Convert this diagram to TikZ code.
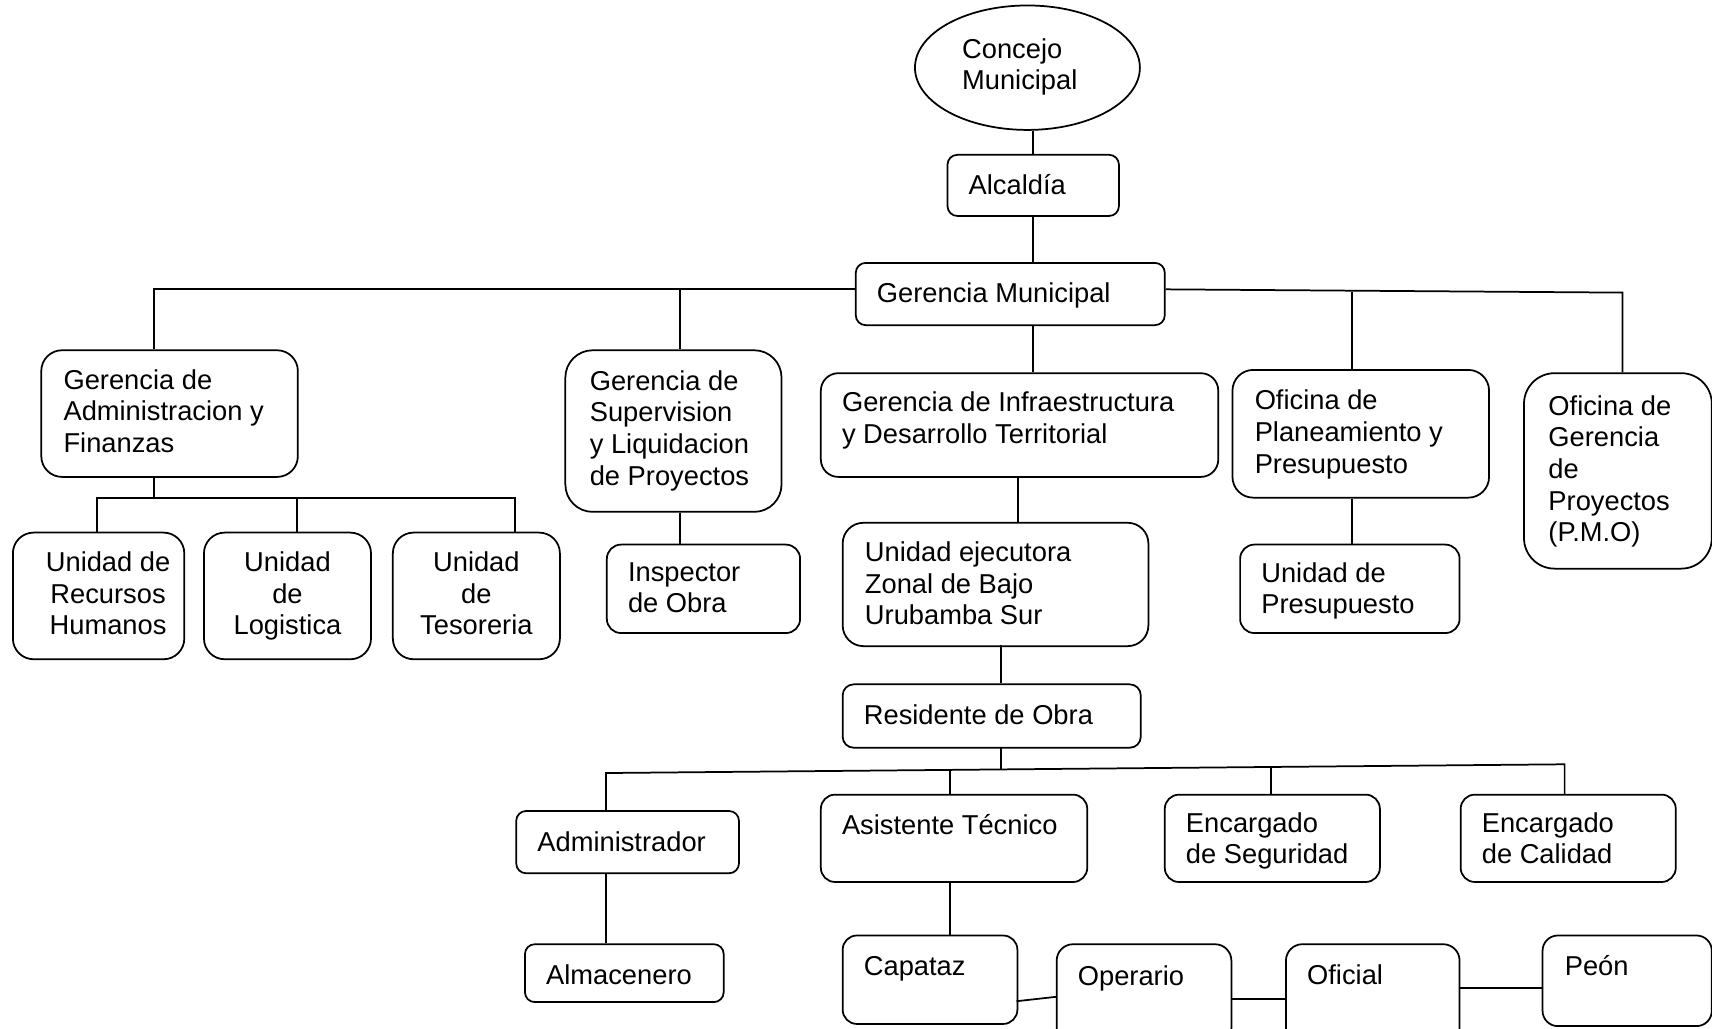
\documentclass[tikz,border=0pt]{standalone}
\usepackage{fontspec}
\setmainfont{Liberation Sans}
\usetikzlibrary{shapes.geometric}
\newcommand{\letra}{\fontsize{25}{29}\selectfont}
\tikzset{
  caja/.style={draw, rounded corners=#1, line width=1.6pt, anchor=north west, inner sep=0pt},
  caja/.default=14pt,
  texto/.style={anchor=north west, inner xsep=20pt, inner ysep=17pt, align=left, font=\letra, execute at begin node=\strut},
  textoc/.style={anchor=north, inner xsep=0pt, inner ysep=17pt, align=center, font=\letra, execute at begin node=\strut},
  linea/.style={line width=1.6pt}
}
\begin{document}
\begin{tikzpicture}[x=1pt, y=-1pt]
      \useasboundingbox (0,0) rectangle (1568,942);
      \clip (0,0) rectangle (1568,942);
      %this draws the boxes
      \node [draw, ellipse, line width=1.6pt, minimum width=206, minimum height=114] (cm) at (941,62) {};
      \node [caja=9pt, minimum width=157, minimum height=56] (alc) at (867,141) {};
      \node [caja=9pt, minimum width=283, minimum height=57] (gm) at (783,240) {};
      \node [caja=19pt, minimum width=235, minimum height=116] (gaf) at (37,320) {};
      \node [caja=25pt, minimum width=198, minimum height=148] (gslp) at (517,320) {};
      \node [caja=16pt, minimum width=364, minimum height=95] (gidt) at (751,341) {};
      \node [caja=19pt, minimum width=235, minimum height=117] (opp) at (1128,338) {};
      \node [caja=28pt, minimum width=172, minimum height=179] (ogp) at (1395,341) {};
      \node [caja=19pt, minimum width=157, minimum height=116] (urh) at (11,487) {};
      \node [caja=19pt, minimum width=153, minimum height=116] (ul) at (186,487) {};
      \node [caja=19pt, minimum width=153, minimum height=116] (ut) at (359,487) {};
      \node [caja=13pt, minimum width=177, minimum height=81] (insp) at (555,498) {};
      \node [caja=19pt, minimum width=280, minimum height=113] (uez) at (771,478) {};
      \node [caja=13pt, minimum width=201, minimum height=81] (upre) at (1135,498) {};
      \node [caja=10pt, minimum width=273, minimum height=58] (res) at (771,626) {};
      \node [caja=9pt, minimum width=204, minimum height=57] (adm) at (472,742) {};
      \node [caja=13pt, minimum width=244, minimum height=80] (ast) at (751,727) {};
      \node [caja=13pt, minimum width=197, minimum height=80] (eseg) at (1066,727) {};
      \node [caja=13pt, minimum width=197, minimum height=80] (ecal) at (1337,727) {};
      \node [caja=9pt, minimum width=182, minimum height=53] (alm) at (480,864) {};
      \node [caja=13pt, minimum width=160, minimum height=81] (cap) at (771,856) {};
      \node [caja=15pt, minimum width=160, minimum height=92] (ope) at (967,864) {};
      \node [caja=15pt, minimum width=159, minimum height=92] (ofi) at (1177,864) {};
      \node [caja=14pt, minimum width=155, minimum height=83] (peon) at (1412,856) {};
      %this draws the texts
      \node [texto] (cm-t) at (861,18) {Concejo\\Municipal};
      \node [texto] (alc-t) at (alc.north west) {Alcaldía};
      \node [texto] (gm-t) at (gm.north west) {Gerencia Municipal};
      \node [texto, xshift=1pt, yshift=-1pt] (gaf-t) at (gaf.north west) {Gerencia de\\Administracion y\\Finanzas};
      \node [texto, xshift=3pt, yshift=-2pt] (gslp-t) at (gslp.north west) {Gerencia de\\Supervision\\y Liquidacion\\de Proyectos};
      \node [texto, yshift=-1pt] (gidt-t) at (gidt.north west) {Gerencia de Infraestructura\\y Desarrollo Territorial};
      \node [texto, xshift=1pt, yshift=-2pt] (opp-t) at (opp.north west) {Oficina de\\Planeamiento y\\Presupuesto};
      \node [texto, xshift=3pt, yshift=-4pt] (ogp-t) at (ogp.north west) {Oficina de\\Gerencia\\de\\Proyectos\\(P.M.O)};
      \node [textoc, yshift=-1pt] (urh-t) at (99,487) {Unidad de\\Recursos\\Humanos};
      \node [textoc, yshift=-1pt] (ul-t) at (ul.north) {Unidad\\de\\Logistica};
      \node [textoc, yshift=-1pt] (ut-t) at (ut.north) {Unidad\\de\\Tesoreria};
      \node [texto] (insp-t) at (insp.north west) {Inspector\\de Obra};
      \node [texto, xshift=1pt, yshift=-1pt] (uez-t) at (uez.north west) {Unidad ejecutora\\Zonal de Bajo\\Urubamba Sur};
      \node [texto] (upre-t) at (upre.north west) {Unidad de\\Presupuesto};
      \node [texto] (res-t) at (res.north west) {Residente de Obra};
      \node [texto] (adm-t) at (adm.north west) {Administrador};
      \node [texto] (ast-t) at (ast.north west) {Asistente Técnico};
      \node [texto] (eseg-t) at (eseg.north west) {Encargado\\de Seguridad};
      \node [texto] (ecal-t) at (ecal.north west) {Encargado\\de Calidad};
      \node [texto] (alm-t) at (alm.north west) {Almacenero};
      \node [texto] (cap-t) at (cap.north west) {Capataz};
      \node [texto, yshift=-1pt] (ope-t) at (ope.north west) {Operario};
      \node [texto] (ofi-t) at (ofi.north west) {Oficial};
      \node [texto, xshift=1pt] (peon-t) at (peon.north west) {Peón};
      %this draws the lines
      \coordinate (bi) at (141,265);
      \coordinate (bs) at (623,265);
      \coordinate (bd) at (1486,268);
      \coordinate (bp) at (1238,267);
      \draw [linea] (alc.north) -- (alc.north |- cm.south);
      \draw [linea] (alc.south) -- (alc.south |- gm.north);
      \draw [linea] (alc.south |- gm.south) -- (alc.south |- gidt.north);
      \draw [linea] (gm.west |- bi) -- (bi) -- (bi |- gaf.north);
      \draw [linea] (bs) -- (bs |- gslp.north);
      \draw [linea] (gm.east |- bi) -- (bd) -- (bd |- ogp.north);
      \draw [linea] (bp) -- (bp |- opp.north);
      % administracion
      \coordinate (ba) at (141,456);
      \draw [linea] (ba |- gaf.south) -- (ba);
      \draw [linea] (89,487) -- (89,456) -- (472,456) -- (472,487);
      \draw [linea] (272,456) -- (272,487);
      \draw [linea] (bs |- gslp.south) -- (bs |- insp.north);
      \draw [linea] (bp |- opp.south) -- (bp |- upre.north);
      \draw [linea] (932.5,436) -- (932.5,478);
      \draw [linea] (917,591) -- (917,626);
      % obra
      \coordinate (ra) at (555,708);
      \coordinate (rc) at (1433,700);
      \draw [linea] (917,684) -- (917,704.7);
      \draw [linea] (adm.north -| ra) -- (ra) -- (rc) -- (rc |- ecal.north);
      \draw [linea] (870,704.2) -- (870,727);
      \draw [linea] (1164,701.8) -- (1164,727);
      \draw [linea] (ra |- adm.south) -- (ra |- alm.north);
      \draw [linea] (870,807) -- (870,856);
      \draw [linea] (931,917) -- (967,913);
      \draw [linea] (1127,915) -- (1177,915);
      \draw [linea] (1336,905) -- (1412,905);
\end{tikzpicture}
\end{document}
